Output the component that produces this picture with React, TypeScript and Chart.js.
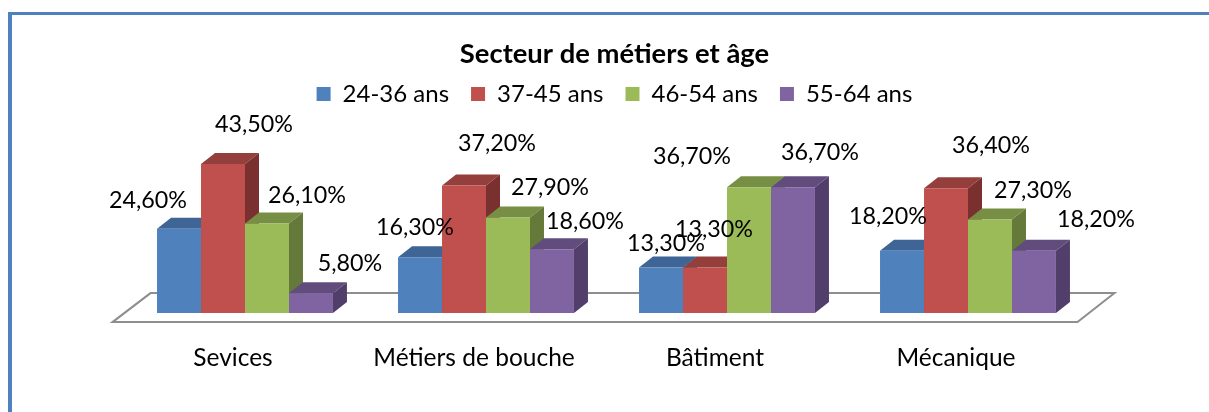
import React, { useEffect, useRef } from "react";
import { Chart, registerables } from "chart.js";

Chart.register(...registerables);

const categories = ["Sevices", "Métiers de bouche", "Bâtiment", "Mécanique"];
const seriesNames = ["24-36 ans", "37-45 ans", "46-54 ans", "55-64 ans"];
const age2436 = [24.6, 16.3, 13.3, 18.2];
const age3745 = [43.5, 37.2, 13.3, 36.4];
const age4654 = [26.1, 27.9, 36.7, 27.3];
const age5564 = [5.8, 18.6, 36.7, 18.2];
const seriesValues = [age2436, age3745, age4654, age5564];

const frontColors = ["#4f81bd", "#c0504d", "#9bbb59", "#8064a2"];
const topColors = ["#3e6595", "#953f3c", "#778f45", "#624c7d"];
const sideColors = ["#345580", "#7a302e", "#64793a", "#523e6b"];

// label displacement from each bar's top centre: [dx, dy] by series then category
const labelNudges = [
  [[-31, -28], [-5, -30], [5, -24], [-14, -34]],
  [[31, -39], [33, -42], [9, -38], [45, -43]],
  [[40, -28], [42, -30], [-57, -31], [43, -29]],
  [[39, -30], [33, -28], [27, -35], [62, -31]],
];

const FONT = "Lato, 'Open Sans', sans-serif";
const DEPTH_X = 14;
const DEPTH_Y = 11;
const HEADER_SHIFT = 8;

const fmt = (v: number) => v.toFixed(2).replace(".", ",") + "%";

// title and legend sit centred on the page, not on the plot
const headerShiftPlugin = {
  id: "headerShift",
  afterLayout(chart: any) {
    [chart.titleBlock, chart.legend].forEach((box: any) => {
      box.left += HEADER_SHIFT;
      box.right += HEADER_SHIFT;
    });
  },
};

const floorPlugin = {
  id: "floor3d",
  beforeDatasetsDraw(chart: any) {
    const { ctx, chartArea, scales } = chart;
    const y0 = scales.y.getPixelForValue(0);
    const l = chartArea.left;
    const r = chartArea.right;
    ctx.save();
    ctx.beginPath();
    ctx.moveTo(l - 12, y0 + 9);
    ctx.lineTo(r - 11, y0 + 9);
    ctx.lineTo(r + 26, y0 - 20);
    ctx.lineTo(l + 26, y0 - 20);
    ctx.closePath();
    ctx.fillStyle = "#ffffff";
    ctx.fill();
    ctx.strokeStyle = "#8e8e8e";
    ctx.lineWidth = 2;
    ctx.stroke();

    // top and side faces, behind the library's own front faces
    chart.data.datasets.forEach((_: any, di: number) => {
      chart.getDatasetMeta(di).data.forEach((bar: any) => {
        const p = bar.getProps(["x", "y", "base", "width"], true);
        const x1 = p.x - p.width / 2;
        const x2 = p.x + p.width / 2;
        ctx.fillStyle = topColors[di];
        ctx.beginPath();
        ctx.moveTo(x1, p.y);
        ctx.lineTo(x1 + DEPTH_X, p.y - DEPTH_Y);
        ctx.lineTo(x2 + DEPTH_X, p.y - DEPTH_Y);
        ctx.lineTo(x2, p.y);
        ctx.closePath();
        ctx.fill();
        ctx.fillStyle = sideColors[di];
        ctx.beginPath();
        ctx.moveTo(x2, p.y);
        ctx.lineTo(x2 + DEPTH_X, p.y - DEPTH_Y);
        ctx.lineTo(x2 + DEPTH_X, p.base - DEPTH_Y);
        ctx.lineTo(x2, p.base);
        ctx.closePath();
        ctx.fill();
      });
    });
    ctx.restore();
  },
};

const labelPlugin = {
  id: "valueLabels",
  afterDatasetsDraw(chart: any) {
    const { ctx } = chart;
    ctx.save();
    ctx.font = `23.3px ${FONT}`;
    ctx.fillStyle = "#000000";
    ctx.textAlign = "center";
    ctx.textBaseline = "middle";
    chart.data.datasets.forEach((ds: any, di: number) => {
      chart.getDatasetMeta(di).data.forEach((bar: any, i: number) => {
        const [dx, dy] = labelNudges[di][i];
        ctx.fillText(fmt(ds.data[i]), bar.x + dx, bar.y + dy);
      });
    });
    ctx.restore();
  },
};

export default function App() {
  const ref = useRef<HTMLCanvasElement | null>(null);

  useEffect(() => {
    if (!ref.current) return;
    const chart = new Chart(ref.current, {
      type: "bar",
      data: {
        labels: categories,
        datasets: seriesNames.map((name, i) => ({
          label: name,
          data: seriesValues[i],
          backgroundColor: frontColors[i],
          categoryPercentage: 0.73,
          barPercentage: 1,
          borderWidth: 0,
        })),
      },
      plugins: [headerShiftPlugin, floorPlugin, labelPlugin],
      options: {
        responsive: false,
        animation: false,
        layout: { padding: { left: 104.5, right: 120.5, top: 0, bottom: 9.5 } },
        plugins: {
          tooltip: { enabled: false },
          title: {
            display: true,
            text: "Secteur de métiers et âge",
            color: "#000000",
            font: { family: FONT, size: 27.4, weight: "bold" },
            padding: { top: 37.5, bottom: -10.4 },
          },
          legend: {
            display: true,
            position: "top",
            labels: {
              color: "#000000",
              font: { family: FONT, size: 24 },
              boxWidth: 14,
              boxHeight: 14,
              padding: 22,
            },
          },
        },
        scales: {
          x: {
            offset: true,
            grid: { display: false, drawTicks: false },
            border: { display: false },
            ticks: {
              color: "#000000",
              font: { family: FONT, size: 24.5 },
              padding: 30,
              labelOffset: -12,
              autoSkip: false,
              maxRotation: 0,
            },
          },
          y: {
            display: false,
            min: 0,
            max: 57.5,
          },
        },
      },
    } as any);
    return () => chart.destroy();
  }, []);

  return (
    <div style={{ position: "fixed", left: 0, top: 0, width: 1209, height: 412, background: "#ffffff" }}>
      <div
        style={{
          position: "absolute",
          left: 8,
          top: 12,
          right: 0,
          bottom: 0,
          borderTop: "3px solid #4f81bd",
          borderLeft: "4px solid #4f81bd",
        }}
      />
      <canvas ref={ref} width={1189} height={412} style={{ position: "absolute", left: 20, top: 0, display: "block" }} />
    </div>
  );
}
